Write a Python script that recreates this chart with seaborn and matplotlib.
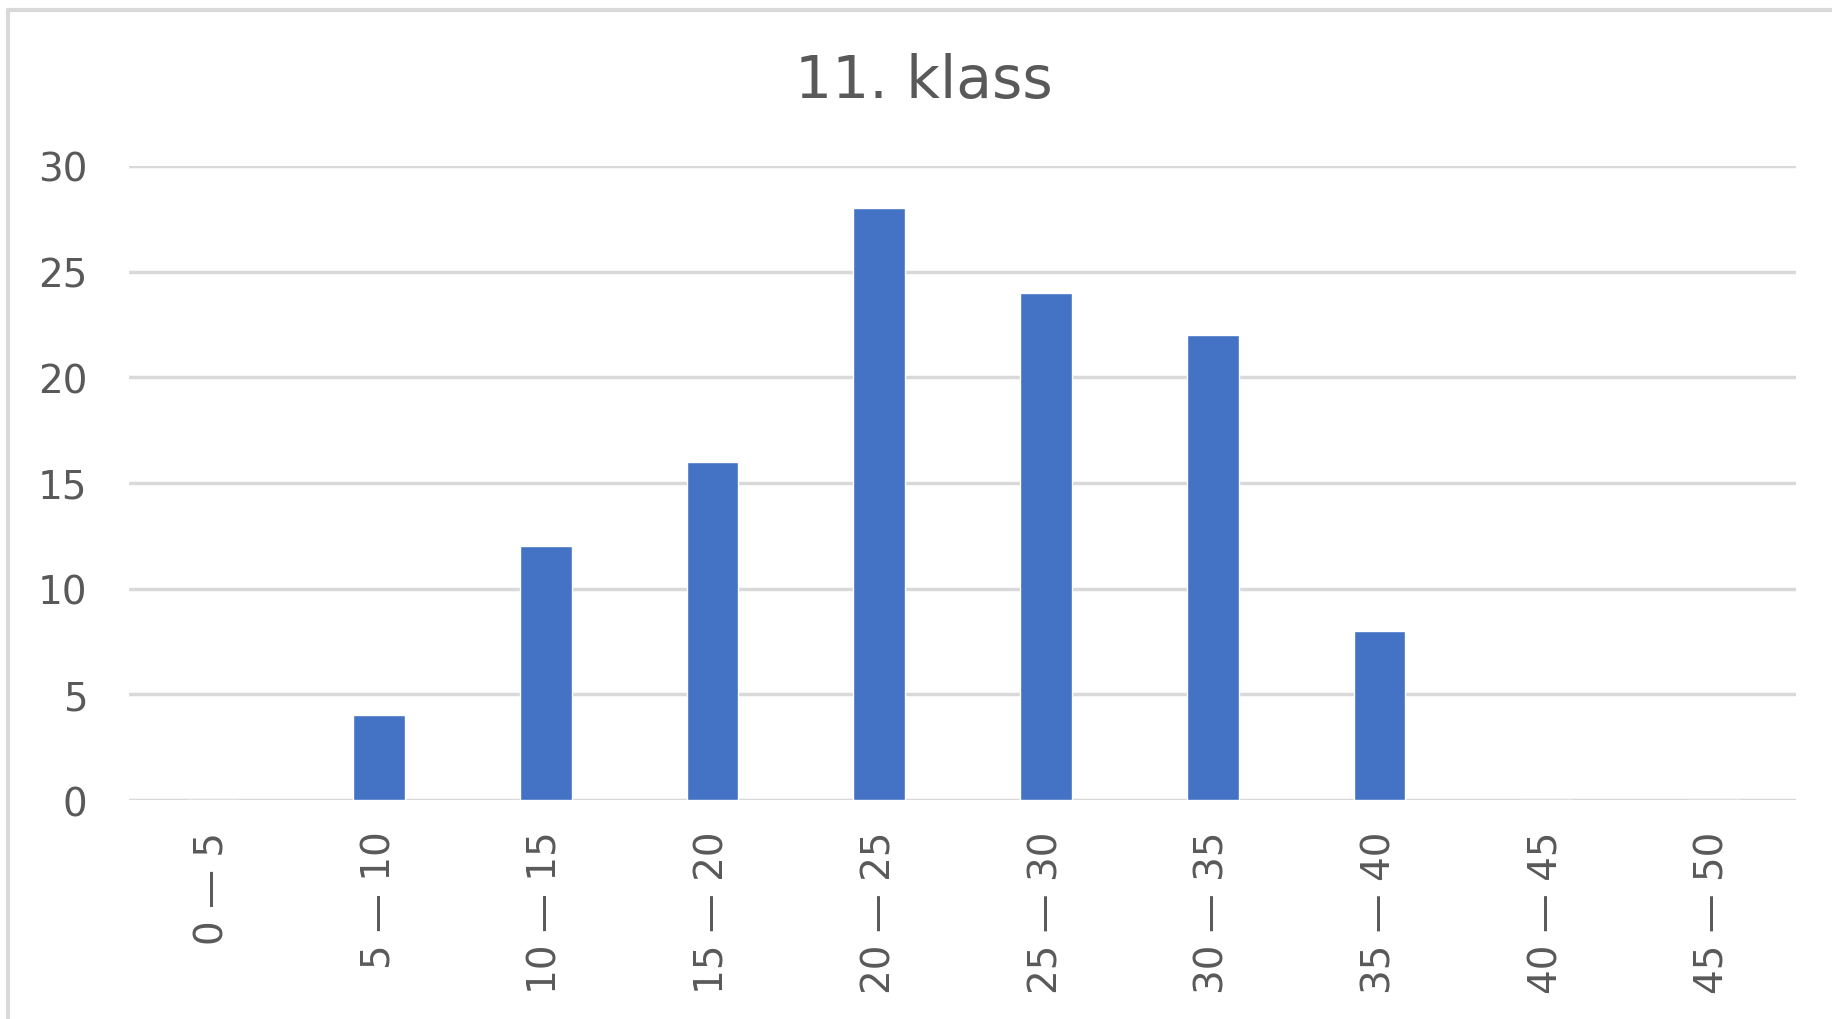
#!/usr/bin/env python3
"""Histogram of scores for the 11th grade."""
import matplotlib

matplotlib.use("Agg")
import matplotlib.pyplot as plt  # noqa: E402
import seaborn as sns  # noqa: E402
from matplotlib.lines import Line2D  # noqa: E402

title = "11. klass"
bins = ["0 — 5", "5 — 10", "10 — 15", "15 — 20", "20 — 25",
        "25 — 30", "30 — 35", "35 — 40", "40 — 45", "45 — 50"]
counts = [0, 4, 12, 16, 28, 24, 22, 8, 0, 0]
y_ticks = [0, 5, 10, 15, 20, 25, 30]

BAR = "#4472C4"
GRID = "#D9D9D9"
TEXT = "#595959"

sns.set_style("white")
plt.rcParams["font.family"] = ["DejaVu Sans"]

fig = plt.figure(figsize=(18.33, 10.2), dpi=100)
ax = fig.add_axes([0.0704, 0.2147, 0.9096, 0.6216])

sns.barplot(x=bins, y=counts, color=BAR, saturation=1, width=0.31, ax=ax, zorder=3)

ax.set_xlim(-0.5, len(bins) - 0.5)
ax.set_ylim(0, 30)
ax.set_yticks(y_ticks)
ax.yaxis.grid(True, color=GRID, linewidth=2.5, zorder=0)
ax.set_axisbelow(True)
ax.tick_params(axis="both", length=0, colors=TEXT, labelsize=28)
ax.tick_params(axis="y", pad=30)
ax.tick_params(axis="x", pad=22)
for lbl in ax.get_xticklabels():
    lbl.set_rotation(90)
ax.set_xlabel("")
ax.set_ylabel("")
for side in ["top", "right", "left", "bottom"]:
    ax.spines[side].set_visible(False)

fig.text(0.504, 0.92, title, ha="center", va="center", fontsize=42, color=TEXT)

# the chart frame is cropped: only its top and left edges show
fig.add_artist(Line2D([0.0045, 1.0], [0.9895, 0.9895], transform=fig.transFigure,
                      color=GRID, linewidth=3))
fig.add_artist(Line2D([0.0045, 0.0045], [0.0, 0.9895], transform=fig.transFigure,
                      color=GRID, linewidth=3))

fig.savefig("out.png", dpi=100, facecolor="white")
plt.close(fig)
